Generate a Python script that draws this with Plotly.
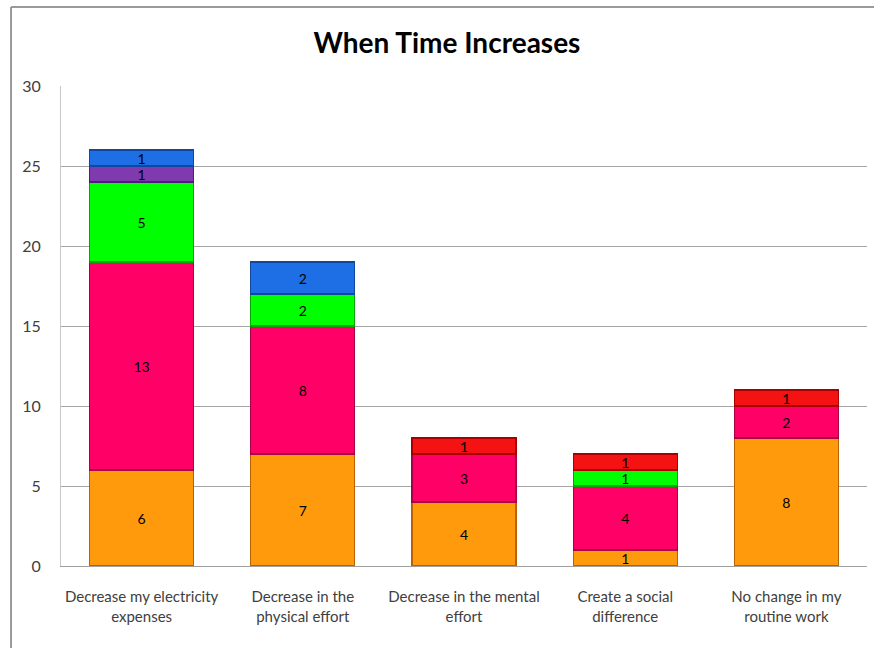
import plotly.graph_objects as go

# Chart data
categories = [
    "Decrease my electricity<br>expenses",
    "Decrease in the<br>physical effort",
    "Decrease in the mental<br>effort",
    "Create a social<br>difference",
    "No change in my<br>routine work",
]
series_names = ["Orange", "Pink", "Green", "Purple", "Blue", "Red"]
orange_vals = [6, 7, 4, 1, 8]
pink_vals = [13, 8, 3, 4, 2]
green_vals = [5, 2, None, 1, None]
purple_vals = [1, None, None, None, None]
blue_vals = [1, 2, None, None, None]
red_vals = [None, None, 1, 1, 1]
y_ticks = [0, 5, 10, 15, 20, 25, 30]

series_values = [orange_vals, pink_vals, green_vals, purple_vals, blue_vals, red_vals]
fill_colors = ["#FF9A0C", "#FF0066", "#00FF00", "#7E3AAE", "#1E6FE6", "#F41212"]
edge_colors = ["#B86200", "#A80044", "#00A800", "#4E1C78", "#10489E", "#A80000"]

FONT = "Lato"

fig = go.Figure()
for name, vals, fc, ec in zip(series_names, series_values, fill_colors, edge_colors):
    fig.add_trace(go.Bar(
        name=name,
        x=categories,
        y=vals,
        marker=dict(color=fc, line=dict(color=ec, width=1.2)),
        text=[("" if v is None else str(v)) for v in vals],
        textposition="inside",
        insidetextanchor="middle",
        textangle=0,
        constraintext="none",
        textfont=dict(family=FONT, size=14, color="#000000"),
        hoverinfo="x+y+name",
    ))

# Outer chart frame (left and top edges)
fig.add_shape(type="line", xref="paper", yref="paper",
              x0=-0.062, x1=1.02, y0=1.1646, y1=1.1646,
              line=dict(color="#9A9A9A", width=2))
fig.add_shape(type="line", xref="paper", yref="paper",
              x0=-0.062, x1=-0.062, y0=1.1646, y1=-0.2,
              line=dict(color="#9A9A9A", width=2))

fig.update_layout(
    barmode="stack",
    bargap=0.354,
    width=874,
    height=648,
    margin=dict(l=61, r=7, t=86, b=82),
    paper_bgcolor="white",
    plot_bgcolor="white",
    showlegend=False,
    uniformtext=dict(minsize=14, mode="show"),
    title=dict(
        text="<b>When Time Increases</b>",
        x=447 / 874,
        xanchor="center",
        y=1 - 43 / 648,
        yanchor="middle",
        font=dict(family=FONT, size=28, color="#000000"),
    ),
    xaxis=dict(
        showgrid=False,
        showline=True,
        linecolor="#A0A0A0",
        linewidth=1,
        ticks="",
        tickfont=dict(family=FONT, size=15, color="#404040"),
        ticklabelstandoff=17,
    ),
    yaxis=dict(
        range=[0, 30],
        tickvals=y_ticks,
        showgrid=True,
        gridcolor="#A6A6A6",
        gridwidth=1,
        zeroline=False,
        showline=True,
        linecolor="#C8C8C8",
        linewidth=1,
        ticks="",
        tickfont=dict(family=FONT, size=16, color="#404040"),
        ticklabelstandoff=16,
    ),
)

fig.write_html("out.html")
